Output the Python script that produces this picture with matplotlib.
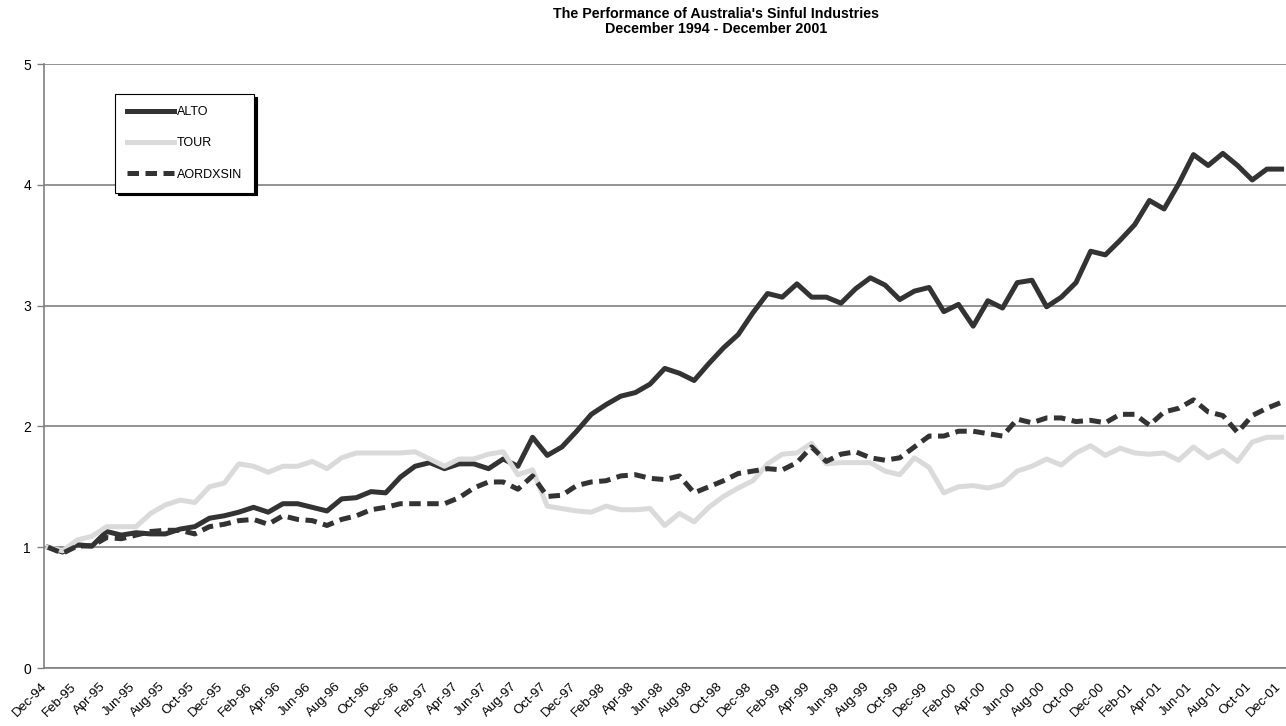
import pandas as pd
import matplotlib
matplotlib.use("Agg")
import matplotlib.pyplot as plt
import matplotlib.transforms as mtransforms

plt.rcParams["font.family"] = ["Liberation Sans", "DejaVu Sans"]

# monthly index values, Dec-94 = 1
months = pd.date_range("1994-12-01", periods=85, freq="MS").strftime("%b-%y").tolist()

alto = [1.00, 0.96, 1.02, 1.01, 1.13, 1.10, 1.12, 1.11, 1.11, 1.15,
        1.17, 1.24, 1.26, 1.29, 1.33, 1.29, 1.36, 1.36, 1.33, 1.30,
        1.40, 1.41, 1.46, 1.45, 1.58, 1.67, 1.70, 1.65, 1.69, 1.69,
        1.65, 1.73, 1.67, 1.91, 1.76, 1.83, 1.96, 2.10, 2.18, 2.25,
        2.28, 2.35, 2.48, 2.44, 2.38, 2.52, 2.65, 2.76, 2.94, 3.10,
        3.07, 3.18, 3.07, 3.07, 3.02, 3.14, 3.23, 3.17, 3.05, 3.12,
        3.15, 2.95, 3.01, 2.83, 3.04, 2.98, 3.19, 3.21, 2.99, 3.07,
        3.19, 3.45, 3.42, 3.54, 3.67, 3.87, 3.80, 4.01, 4.25, 4.16,
        4.26, 4.16, 4.04, 4.13, 4.13]

tour = [1.00, 0.97, 1.06, 1.09, 1.17, 1.17, 1.17, 1.28, 1.35, 1.39,
        1.37, 1.50, 1.53, 1.69, 1.67, 1.62, 1.67, 1.67, 1.71, 1.65,
        1.74, 1.78, 1.78, 1.78, 1.78, 1.79, 1.73, 1.67, 1.73, 1.73,
        1.77, 1.79, 1.60, 1.64, 1.34, 1.32, 1.30, 1.29, 1.34, 1.31,
        1.31, 1.32, 1.18, 1.28, 1.21, 1.33, 1.42, 1.49, 1.55, 1.69,
        1.77, 1.78, 1.86, 1.69, 1.70, 1.70, 1.70, 1.63, 1.60, 1.74,
        1.66, 1.45, 1.50, 1.51, 1.49, 1.52, 1.63, 1.67, 1.73, 1.68,
        1.78, 1.84, 1.76, 1.82, 1.78, 1.77, 1.78, 1.72, 1.83, 1.74,
        1.80, 1.71, 1.87, 1.91, 1.91]

aordxsin = [1.00, 0.95, 1.01, 1.01, 1.08, 1.07, 1.10, 1.13, 1.14, 1.14,
            1.11, 1.17, 1.19, 1.22, 1.23, 1.19, 1.26, 1.23, 1.22, 1.18,
            1.23, 1.26, 1.31, 1.33, 1.36, 1.36, 1.36, 1.36, 1.41, 1.49,
            1.54, 1.54, 1.48, 1.59, 1.42, 1.43, 1.51, 1.54, 1.55, 1.59,
            1.60, 1.57, 1.56, 1.59, 1.45, 1.50, 1.55, 1.61, 1.63, 1.65,
            1.64, 1.70, 1.83, 1.71, 1.77, 1.79, 1.74, 1.72, 1.74, 1.83,
            1.92, 1.92, 1.96, 1.96, 1.94, 1.92, 2.06, 2.03, 2.07, 2.07,
            2.04, 2.05, 2.03, 2.10, 2.10, 2.01, 2.12, 2.15, 2.22, 2.12,
            2.09, 1.95, 2.09, 2.15, 2.20]

W, H = 1286, 726
fig = plt.figure(figsize=(W / 100, H / 100), dpi=100)
ax = fig.add_axes([43.5 / W, 1 - 668 / H, 1 - 43.5 / W, 604 / H])

x = list(range(len(months)))
ax.plot(x, alto, color="#333333", lw=3.6, solid_joinstyle="round", label="ALTO", zorder=3)
ax.plot(x, tour, color="#dadada", lw=3.6, label="TOUR", zorder=3)
ax.plot(x, aordxsin, color="#333333", lw=3.6, linestyle=(0, (2.3, 1.3)),
        dash_capstyle="butt", label="AORDXSIN", zorder=3)

ax.set_xlim(-0.3, 84.3)
ax.set_ylim(0, 5)
ax.set_yticks([0, 1, 2, 3, 4, 5])
ax.yaxis.grid(True, color="#808080", lw=1.2)
ax.set_axisbelow(True)

ax.set_xticks(x[::2])
ax.set_xticklabels(months[::2], rotation=45, ha="right", va="top",
                   rotation_mode="anchor", fontsize=9.5)
ax.tick_params(axis="x", length=0, pad=9)
ax.tick_params(axis="y", length=5, width=1, color="#808080", labelsize=10, pad=4)
shift = mtransforms.ScaledTranslation(-0.07, 0, fig.dpi_scale_trans)
for lab in ax.get_xticklabels():
    lab.set_transform(lab.get_transform() + shift)

for side in ["top", "right"]:
    ax.spines[side].set_visible(False)
for side in ["left", "bottom"]:
    ax.spines[side].set_color("#808080")
    ax.spines[side].set_linewidth(1.2)

leg = ax.legend(loc="upper left", bbox_to_anchor=(0.0576, 0.950), borderaxespad=0,
                fontsize=9, handlelength=3.8, handletextpad=0.2, labelspacing=1.55,
                borderpad=0.95, fancybox=False, frameon=True,
                shadow={"color": "black", "alpha": 1})
leg.get_frame().set_edgecolor("black")
leg.get_frame().set_linewidth(0.8)

fig.text(716 / W, 1 - 14 / H, "The Performance of Australia's Sinful Industries",
         ha="center", va="center", fontsize=10.3, fontweight="bold")
fig.text(716 / W, 1 - 29 / H, "December 1994 - December 2001",
         ha="center", va="center", fontsize=10.3, fontweight="bold")

fig.savefig("out.png", dpi=100)
